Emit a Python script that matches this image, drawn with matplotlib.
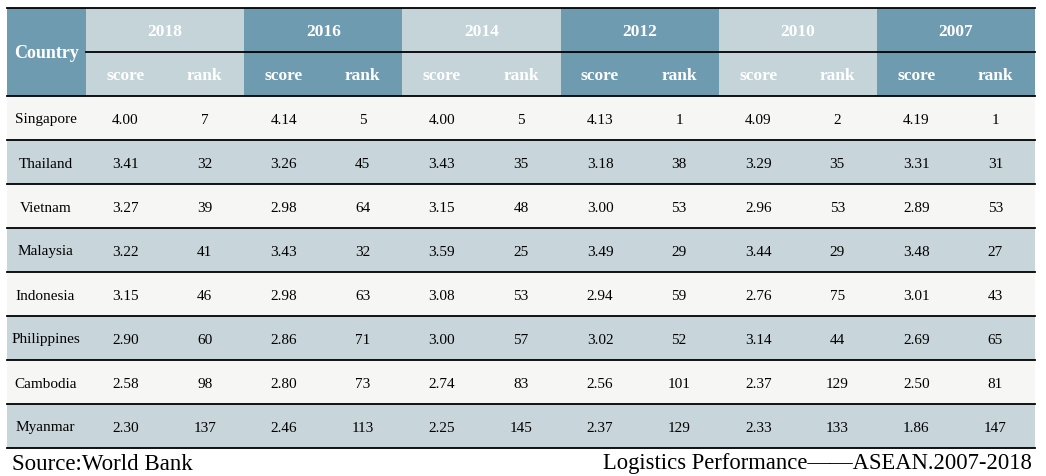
import matplotlib
matplotlib.use("Agg")
import matplotlib.pyplot as plt
from matplotlib.patches import Rectangle

countries = ["Singapore", "Thailand", "Vietnam", "Malaysia",
             "Indonesia", "Philippines", "Cambodia", "Myanmar"]
years = ["2018", "2016", "2014", "2012", "2010", "2007"]

score_2018 = [4.00, 3.41, 3.27, 3.22, 3.15, 2.90, 2.58, 2.30]
rank_2018 = [7, 32, 39, 41, 46, 60, 98, 137]
score_2016 = [4.14, 3.26, 2.98, 3.43, 2.98, 2.86, 2.80, 2.46]
rank_2016 = [5, 45, 64, 32, 63, 71, 73, 113]
score_2014 = [4.00, 3.43, 3.15, 3.59, 3.08, 3.00, 2.74, 2.25]
rank_2014 = [5, 35, 48, 25, 53, 57, 83, 145]
score_2012 = [4.13, 3.18, 3.00, 3.49, 2.94, 3.02, 2.56, 2.37]
rank_2012 = [1, 38, 53, 29, 59, 52, 101, 129]
score_2010 = [4.09, 3.29, 2.96, 3.44, 2.76, 3.14, 2.37, 2.33]
rank_2010 = [2, 35, 53, 29, 75, 44, 129, 133]
score_2007 = [4.19, 3.31, 2.89, 3.48, 3.01, 2.69, 2.50, 1.86]
rank_2007 = [1, 31, 53, 27, 43, 65, 81, 147]

scores = [score_2018, score_2016, score_2014, score_2012, score_2010, score_2007]
ranks = [rank_2018, rank_2016, rank_2014, rank_2012, rank_2010, rank_2007]

source_text = "Source:World Bank"
title_text = "Logistics Performance\u2014\u2014ASEAN.2007-2018"

# layout in pixels
W, H = 1046, 476
left, right = 7, 1035
country_w = 79
top = 8
head_h = 44
row_h = 44
group_w = (right - left - country_w) / len(years)

dark = "#6f9bb1"
light = "#c4d4d8"
row_white = "#f6f7f5"
row_gray = "#c8d5da"

plt.rcParams["font.family"] = ["Liberation Serif", "DejaVu Serif"]

fig = plt.figure(figsize=(W / 100, H / 100), dpi=100)
ax = fig.add_axes([0, 0, 1, 1])
ax.set_xlim(0, W)
ax.set_ylim(H, 0)
ax.axis("off")

# header: country cell
ax.add_patch(Rectangle((left, top), country_w, 2 * head_h, color=dark, lw=0))
ax.text(left + country_w / 2, top + head_h + 1, "Country", ha="center", va="center",
        color="white", fontsize=13, fontweight="bold")

for g, year in enumerate(years):
    x0 = left + country_w + g * group_w
    col = light if g % 2 == 0 else dark
    ax.add_patch(Rectangle((x0, top), group_w, 2 * head_h, color=col, lw=0))
    ax.text(x0 + group_w / 2, top + head_h / 2 + 2, year, ha="center", va="center",
            color="white", fontsize=12.5, fontweight="bold")
    for k, sub in enumerate(["score", "rank"]):
        ax.text(x0 + group_w / 4 + k * group_w / 2, top + 1.5 * head_h + 2, sub,
                ha="center", va="center", color="white", fontsize=12.5,
                fontweight="bold")

# body rows
body_top = top + 2 * head_h
for i, c in enumerate(countries):
    y0 = body_top + i * row_h
    col = row_white if i % 2 == 0 else row_gray
    ax.add_patch(Rectangle((left, y0), right - left, row_h, color=col, lw=0))
    yc = y0 + row_h / 2 + 2
    ax.text(left + country_w / 2 - 1, yc, c, ha="center", va="center",
            color="black", fontsize=11)
    for g in range(len(years)):
        x0 = left + country_w + g * group_w
        ax.text(x0 + group_w / 4, yc, f"{scores[g][i]:.2f}", ha="center",
                va="center", color="black", fontsize=11)
        ax.text(x0 + 3 * group_w / 4, yc, str(ranks[g][i]), ha="center",
                va="center", color="black", fontsize=11)

# rules
ax.plot([left, right], [top, top], color="black", lw=1.3)
ax.plot([left + country_w, right], [top + head_h, top + head_h], color="black", lw=1.3)
for i in range(len(countries) + 1):
    y = body_top + i * row_h
    ax.plot([left, right], [y, y], color="black", lw=1.3)

# footer
bottom = body_top + len(countries) * row_h
ax.text(12, bottom + 16, source_text, ha="left", va="center", color="black",
        fontsize=16.5)
ax.text(1032, bottom + 16, title_text, ha="right", va="center", color="black",
        fontsize=16.3)

fig.savefig("out.png", dpi=100)
